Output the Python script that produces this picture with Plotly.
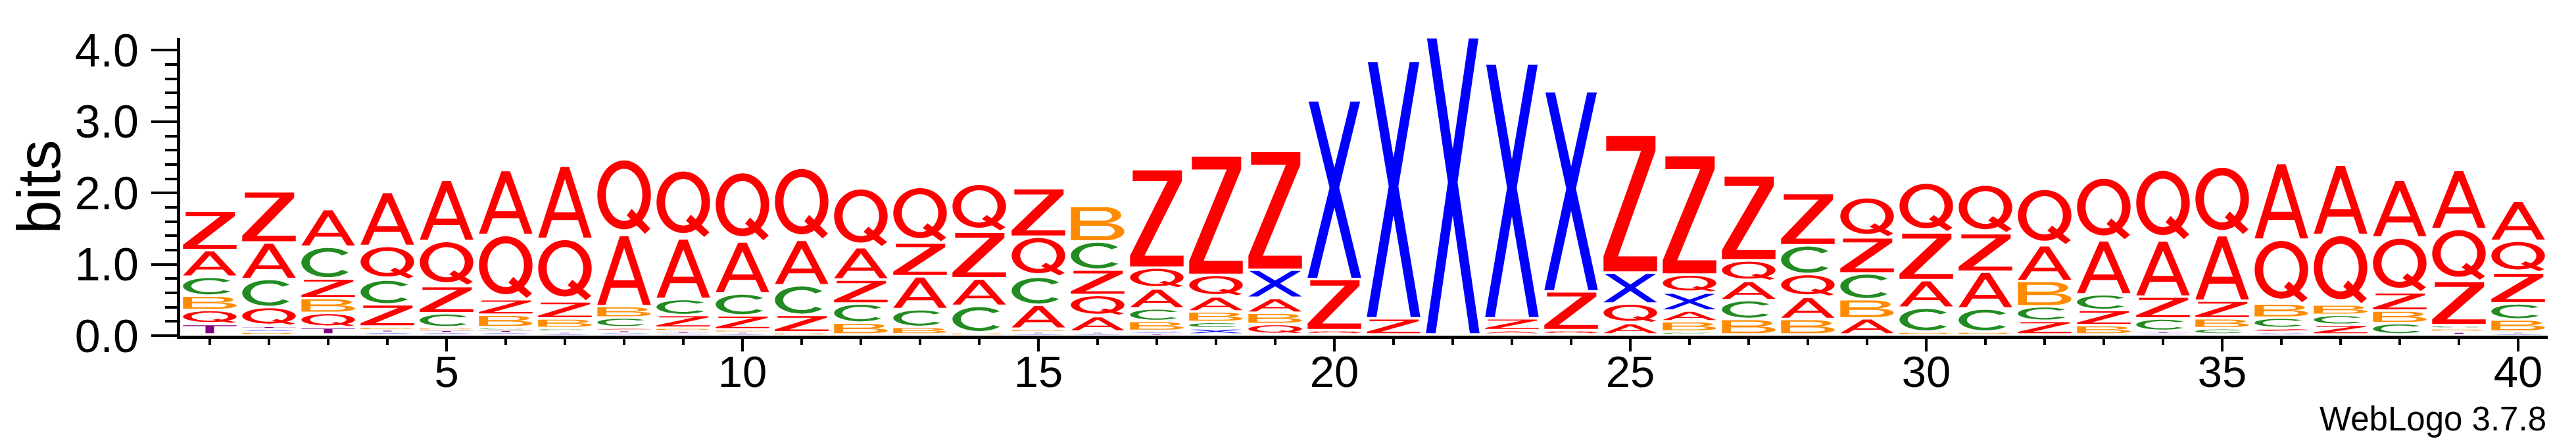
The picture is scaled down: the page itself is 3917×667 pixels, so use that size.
import math
import plotly.graph_objects as go

# ---------------- data (bits per letter, positions 1..40) ----------------
positions = list(range(1, 41))

A_bits = [0.374, 0.512, 0.528, 0.757, 0.859, 0.910, 1.025, 0.997, 0.851, 0.729,
          0.638, 0.453, 0.461, 0.385, 0.335, 0.217, 0.280, 0.209, 0.209, 0.0,
          0.0, 0.0, 0.060, 0.0, 0.158, 0.150, 0.268, 0.310, 0.225, 0.386,
          0.516, 0.500, 0.757, 0.788, 0.918, 1.076, 0.985, 0.808, 0.828, 0.560]
B_bits = [0.201, 0.040, 0.207, 0.040, 0.034, 0.177, 0.134, 0.158, 0.045, 0.030,
          0.030, 0.166, 0.106, 0.030, 0.040, 0.500, 0.138, 0.148, 0.158, 0.0,
          0.0, 0.0, 0.0, 0.0, 0.0, 0.145, 0.217, 0.217, 0.268, 0.040,
          0.040, 0.355, 0.130, 0.0, 0.138, 0.197, 0.145, 0.177, 0.045, 0.170]
C_bits = [0.264, 0.394, 0.445, 0.347, 0.197, 0.034, 0.050, 0.138, 0.225, 0.307,
          0.414, 0.268, 0.248, 0.370, 0.394, 0.394, 0.177, 0.090, 0.0, 0.0,
          0.0, 0.0, 0.0, 0.0, 0.0, 0.040, 0.264, 0.402, 0.363, 0.335,
          0.323, 0.205, 0.220, 0.173, 0.087, 0.146, 0.140, 0.158, 0.045, 0.225]
Q_bits = [0.197, 0.264, 0.203, 0.473, 0.630, 0.900, 0.875, 1.064, 0.954, 0.973,
          1.009, 0.828, 0.780, 0.672, 0.560, 0.296, 0.292, 0.303, 0.146, 0.060,
          0.0, 0.0, 0.0, 0.060, 0.276, 0.255, 0.288, 0.320, 0.564, 0.698,
          0.682, 0.792, 0.879, 0.993, 0.962, 0.895, 0.975, 0.768, 0.729, 0.445]
Z_bits = [0.552, 0.717, 0.276, 0.311, 0.382, 0.217, 0.240, 0.040, 0.177, 0.197,
          0.245, 0.335, 0.473, 0.655, 0.682, 0.355, 1.379, 1.675, 1.667, 0.717,
          0.225, 0.0, 0.166, 0.544, 1.931, 1.675, 1.190, 0.733, 0.504, 0.670,
          0.540, 0.190, 0.213, 0.307, 0.248, 0.060, 0.135, 0.256, 0.619, 0.433]
X_bits = [0.0, 0.040, 0.0, 0.035, 0.033, 0.033, 0.020, 0.030, 0.025, 0.020,
          0.0, 0.0, 0.0, 0.0, 0.020, 0.020, 0.030, 0.085, 0.394, 2.502,
          3.610, 4.165, 3.570, 2.806, 0.433, 0.250, 0.0, 0.0, 0.0, 0.0,
          0.0, 0.0, 0.0, 0.025, 0.0, 0.030, 0.0, 0.0, 0.0, 0.020]
T_bits = [0.146, 0.040, 0.099, 0.035, 0.033, 0.033, 0.020, 0.030, 0.025, 0.020,
          0.0, 0.0, 0.0, 0.0, 0.020, 0.020, 0.020, 0.0, 0.0, 0.0,
          0.0, 0.0, 0.0, 0.0, 0.0, 0.0, 0.0, 0.0, 0.0, 0.0,
          0.0, 0.0, 0.0, 0.025, 0.0, 0.0, 0.0, 0.0, 0.040, 0.020]

letters = ["A", "B", "C", "Q", "Z", "X", "T"]
bits_by_letter = {"A": A_bits, "B": B_bits, "C": C_bits, "Q": Q_bits,
                  "Z": Z_bits, "X": X_bits, "T": T_bits}
letter_colors = {"A": "#FF0000", "Q": "#FF0000", "Z": "#FF0000",
                 "C": "#228B22", "B": "#FF8C00", "X": "#0000FF", "T": "#800080"}

y_tick_labels = ["0.0", "1.0", "2.0", "3.0", "4.0"]
x_tick_values = [5, 10, 15, 20, 25, 30, 35, 40]

# ---------------- glyph outlines in a unit box ----------------
def arc(cx, cy, rx, ry, a0, a1, n=28):
    return [(cx + rx * math.cos(math.radians(a0 + (a1 - a0) * i / n)),
             cy + ry * math.sin(math.radians(a0 + (a1 - a0) * i / n))) for i in range(n + 1)]

def glyph(letter):
    if letter == "A":
        outer = [(0, 0), (0.42, 1), (0.58, 1), (1, 0), (0.85, 0), (0.745, 0.25),
                 (0.255, 0.25), (0.15, 0)]
        hole = [(0.30, 0.36), (0.70, 0.36), (0.5, 0.83)]
        return [[outer, hole]]
    if letter == "Z":
        return [[[(0.05, 1), (0.97, 1), (0.97, 0.89), (0.27, 0.11), (1, 0.11), (1, 0),
                  (0, 0), (0, 0.11), (0.70, 0.89), (0.05, 0.89)]]]
    if letter == "X":
        return [[[(0, 0), (0.18, 0), (0.5, 0.4), (0.82, 0), (1, 0), (0.59, 0.5125),
                  (0.98, 1), (0.8, 1), (0.5, 0.625), (0.2, 1), (0.02, 1), (0.41, 0.5125)]]]
    if letter == "T":
        return [[[(0, 1), (1, 1), (1, 0.88), (0.58, 0.88), (0.58, 0), (0.42, 0),
                  (0.42, 0.88), (0, 0.88)]]]
    if letter == "C":
        outer = arc(0.5, 0.5, 0.5, 0.5, 40, 320, 40)
        inner = arc(0.5, 0.5, 0.345, 0.37, 318, 42, 40)
        return [[outer + inner]]
    if letter == "Q":
        outer = arc(0.5, 0.53, 0.5, 0.47, 0, 360, 48)
        inner = arc(0.5, 0.53, 0.34, 0.355, 0, 360, 48)
        tail = [(0.55, 0.25), (0.64, 0.34), (0.99, 0.07), (0.89, 0.0)]
        return [[outer, inner], [tail]]
    if letter == "B":
        outer = ([(0, 0), (0, 1), (0.62, 1)] + arc(0.62, 0.76, 0.32, 0.24, 90, -90, 20)
                 + arc(0.64, 0.26, 0.36, 0.26, 90, -90, 20) + [(0, 0)])
        hole1 = [(0.17, 0.59), (0.17, 0.88), (0.6, 0.88)] + arc(0.6, 0.735, 0.17, 0.145, 90, -90, 16)
        hole2 = [(0.17, 0.12), (0.17, 0.44), (0.62, 0.44)] + arc(0.62, 0.28, 0.2, 0.16, 90, -90, 16)
        return [[outer, hole1, hole2]]
    return []

GLYPH_W = 0.905
PAD = 0.035

def path_for(polys, xc, y0, h):
    parts = []
    for poly in polys:
        pts = [(xc + (u - 0.5) * GLYPH_W, y0 + v * h) for (u, v) in poly]
        s = "M%.4f,%.4f" % pts[0] + "".join("L%.4f,%.4f" % p for p in pts[1:]) + "Z"
        parts.append(s)
    return " ".join(parts)

shapes = []
totals = []
for i, pos in enumerate(positions):
    col = [(bits_by_letter[l][i], k, l) for k, l in enumerate(letters) if bits_by_letter[l][i] > 0]
    col.sort()
    ybase = 0.0
    for h, _, l in col:
        drawn = max(h - PAD, h * 0.3)
        bottom = ybase + h - drawn
        for piece in glyph(l):
            shapes.append(dict(type="path", path=path_for(piece, pos, bottom, drawn),
                               xref="x", yref="y", fillcolor=letter_colors[l],
                               line=dict(width=0), fillrule="evenodd", layer="above"))
        ybase += h
    totals.append(ybase)

fig = go.Figure()
fig.add_trace(go.Scatter(x=positions, y=totals, mode="markers",
                         marker=dict(opacity=0), hoverinfo="skip", showlegend=False))

FONT = "Liberation Sans, Arial, Helvetica, sans-serif"
fig.update_layout(
    width=3917, height=667,
    margin=dict(l=266, r=51, t=50, b=165),
    plot_bgcolor="white", paper_bgcolor="white",
    showlegend=False,
    font=dict(family=FONT, color="black"),
    shapes=shapes,
)
fig.update_xaxes(
    range=[0.5, 40.5], tickmode="array", tickvals=x_tick_values,
    ticktext=[str(v) for v in x_tick_values],
    ticks="outside", ticklen=19, tickwidth=4, tickcolor="black",
    showline=True, linewidth=5, linecolor="black",
    showgrid=False, zeroline=False,
    tickfont=dict(family=FONT, size=67, color="black"),
    ticklabelstandoff=-26,
    minor=dict(ticks="outside", tickmode="linear", tick0=0, dtick=1, ticklen=9,
               tickwidth=4, tickcolor="black", showgrid=False),
)
fig.update_yaxes(
    range=[0, 4.17], tickmode="array", tickvals=[0, 1, 2, 3, 4], ticktext=y_tick_labels,
    ticks="outside", ticklen=39, tickwidth=4, tickcolor="black",
    showline=True, linewidth=5, linecolor="black",
    showgrid=False, zeroline=False,
    tickfont=dict(family=FONT, size=70, color="black"),
    ticklabelstandoff=5,
    minor=dict(ticks="outside", tickmode="linear", tick0=0, dtick=0.2, ticklen=18,
               tickwidth=4, tickcolor="black", showgrid=False),
    title=dict(text="bits", font=dict(family=FONT, size=92, color="black"), standoff=6),
)
fig.add_annotation(text="WebLogo 3.7.8", xref="paper", yref="paper", x=1.0, y=-0.28,
                   xanchor="right", yanchor="middle", showarrow=False,
                   font=dict(family=FONT, size=51, color="black"))

fig.write_html("out.html")
